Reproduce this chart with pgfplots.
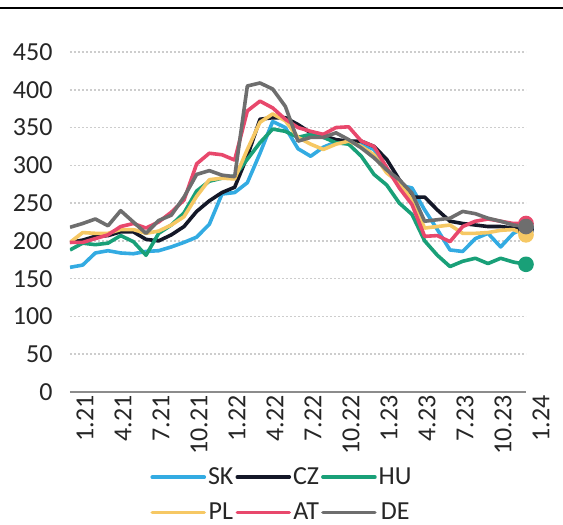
\documentclass[border=0pt]{standalone}
\usepackage{fontspec}
\setmainfont{Carlito}
\usepackage{pgfplots}
\pgfplotsset{compat=1.18}
\usepackage{pgfplotstable}

\definecolor{skBlue}{RGB}{51,171,226}
\definecolor{czBlack}{RGB}{20,24,40}
\definecolor{huGreen}{RGB}{25,160,120}
\definecolor{plYellow}{RGB}{246,200,100}
\definecolor{atRed}{RGB}{232,72,108}
\definecolor{deGray}{RGB}{110,110,110}
\definecolor{axGray}{RGB}{140,140,140}
\definecolor{gridGray}{RGB}{205,205,205}

\newcommand\chartfont{\fontsize{26pt}{30pt}\selectfont}

% month index (0 = 1.21 ... 36 = 1.24)
\pgfplotstableread{
i  SK  CZ  HU  PL  AT  DE
0  165 198 188 198 198 218
1  168 201 197 211 198 223
2  184 206 195 210 203 229
3  187 207 197 210 208 220
4  184 212 207 215 219 240
5  183 212 199 215 223 225
6  186 202 181 210 217 210
7  187 200 210 213 225 227
8  192 208 221 221 238 234
9  198 219 237 232 254 258
10 205 239 266 259 302 288
11 222 253 279 281 316 293
12 262 264 283 283 314 287
13 264 271 286 282 307 285
14 277 312 308 321 372 405
15 316 361 330 357 385 409
16 358 363 348 368 376 401
17 350 363 345 359 361 378
18 322 354 337 337 350 332
19 312 343 341 328 345 337
20 324 339 337 321 341 337
21 331 334 330 328 350 343
22 332 332 328 332 351 334
23 328 332 312 325 332 323
24 321 325 288 314 325 310
25 294 308 274 290 297 294
26 274 281 250 277 270 281
27 270 258 235 254 248 263
28 241 258 200 217 206 226
29 215 241 181 219 207 228
30 188 226 166 221 199 230
31 186 223 173 210 219 239
32 203 221 177 210 226 236
33 210 219 170 211 229 230
34 192 219 177 214 226 226
35 210 217 172 215 223 221
36 218 215 169 208 223 219
}\prices

\begin{document}
\begin{tikzpicture}[x=1pt,y=1pt]
  \draw[line width=2pt, black] (0,517) -- (563,517);
  \begin{axis}[
    scale only axis,
    width=456pt, height=340pt,
    at={(70pt,133pt)}, anchor=south west,
    xmin=0, xmax=36, ymin=0, ymax=450,
    xtick={0,3,...,36},
    xticklabels={1.21,4.21,7.21,10.21,1.22,4.22,7.22,10.22,1.23,4.23,7.23,10.23,1.24},
    ytick={50,100,...,450},
    extra y ticks={0},
    extra y tick style={grid style={solid, draw=axGray, line width=2pt}},
    ymajorgrids,
    grid style={draw=gridGray, line width=1.6pt, dash pattern=on 1.6pt off 2.4pt},
    axis line style={draw=none},
    major tick length=0pt,
    tick label style={font=\chartfont, text=black!85},
    /pgf/number format/assume math mode=true,
    xticklabel style={rotate=90, anchor=east, yshift=-15pt},
    yticklabel style={anchor=east, xshift=-14pt},
    legend columns=3,
    legend style={draw=none, fill=none, at={(0.465,-0.302)}, anchor=center,
      font=\chartfont, text=black!85, row sep=13pt,
      /tikz/every even column/.append style={column sep=0pt}},
    legend image code/.code={\draw[line width=3.6pt, line cap=round] (0pt,0pt) -- (52pt,0pt);},
    every axis plot/.append style={line width=3.6pt, line join=round},
  ]
    \addplot[skBlue, no markers] table[x=i, y=SK] {\prices};
    \addlegendentry{SK}
    \addplot[czBlack, no markers] table[x=i, y=CZ] {\prices};
    \addlegendentry{CZ}
    \addplot[huGreen, no markers] table[x=i, y=HU] {\prices};
    \addlegendentry{HU}
    \addplot[plYellow, no markers] table[x=i, y=PL] {\prices};
    \addlegendentry{PL}
    \addplot[atRed, no markers] table[x=i, y=AT] {\prices};
    \addlegendentry{AT}
    \addplot[deGray, no markers] table[x=i, y=DE] {\prices};
    \addlegendentry{DE}

    \addplot[forget plot, only marks, mark=*, mark size=6pt, skBlue, restrict x to domain=35.5:36.5] table[x=i, y=SK] {\prices};
    \addplot[forget plot, only marks, mark=*, mark size=6pt, czBlack, restrict x to domain=35.5:36.5] table[x=i, y=CZ] {\prices};
    \addplot[forget plot, only marks, mark=*, mark size=6pt, huGreen, restrict x to domain=35.5:36.5] table[x=i, y=HU] {\prices};
    \addplot[forget plot, only marks, mark=*, mark size=6pt, plYellow, restrict x to domain=35.5:36.5] table[x=i, y=PL] {\prices};
    \addplot[forget plot, only marks, mark=*, mark size=6pt, atRed, restrict x to domain=35.5:36.5] table[x=i, y=AT] {\prices};
    \addplot[forget plot, only marks, mark=*, mark size=6pt, deGray, restrict x to domain=35.5:36.5] table[x=i, y=DE] {\prices};
  \end{axis}
  \pgfresetboundingbox
  \path (0,0) rectangle (563,525);
\end{tikzpicture}
\end{document}
